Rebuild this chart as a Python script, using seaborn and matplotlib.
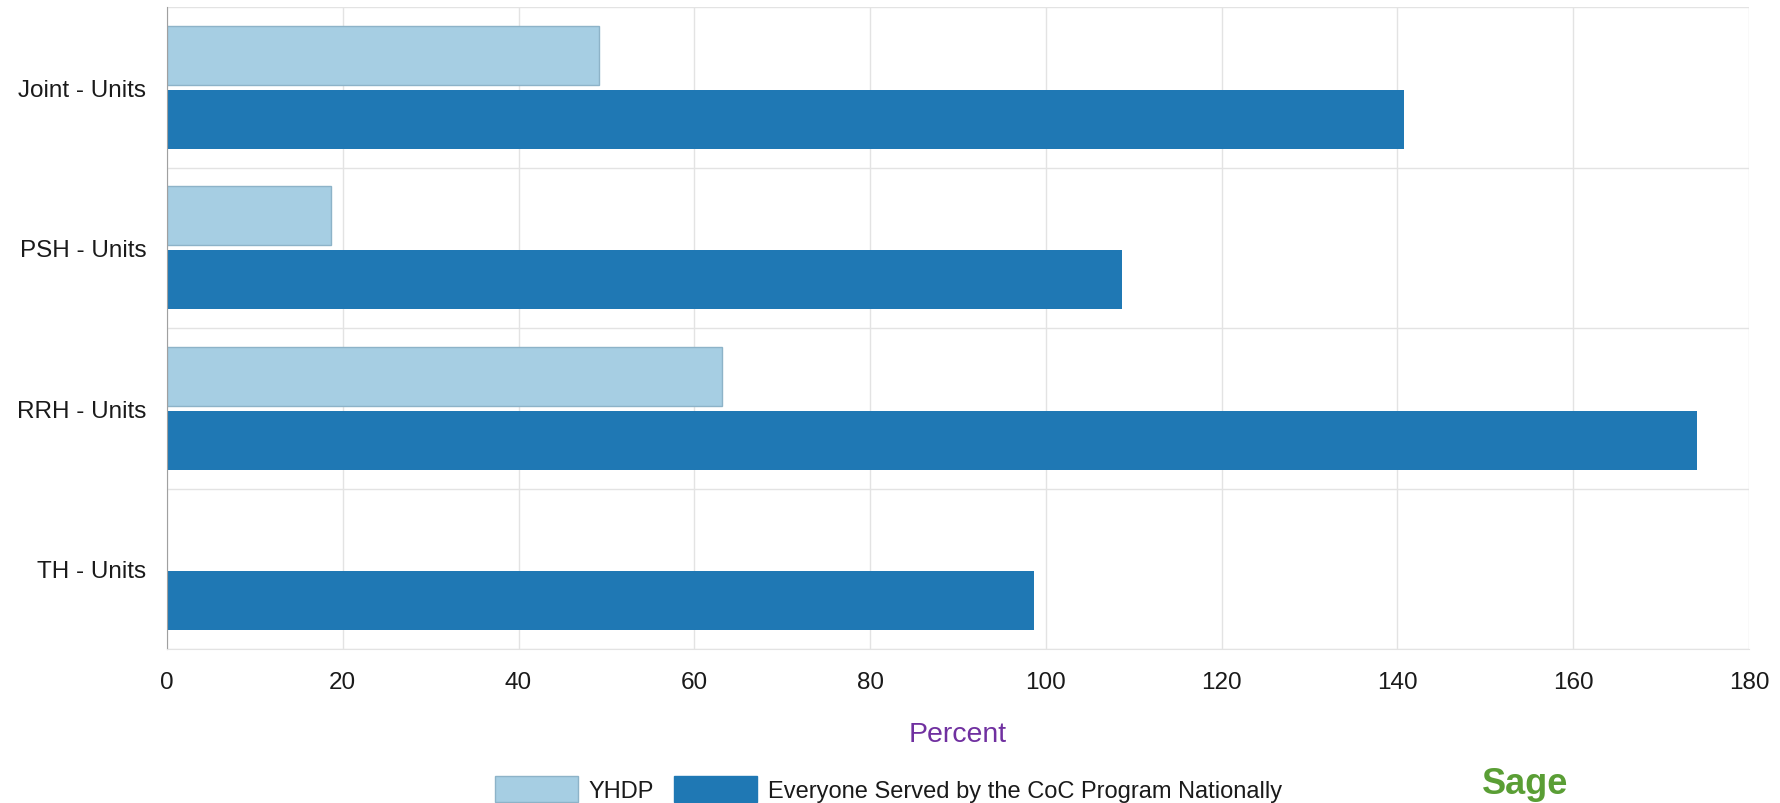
# Percent of units: YHDP vs everyone served by the CoC program nationally
import numpy as np
import pandas as pd
import matplotlib
matplotlib.use("Agg")
import matplotlib.pyplot as plt
from matplotlib.patches import Patch
import seaborn as sns

categories = ["Joint - Units", "PSH - Units", "RRH - Units", "TH - Units"]
series = ["YHDP", "Everyone Served by the CoC Program Nationally"]
yhdp = [49.2, 18.7, 63.2, np.nan]
everyone = [140.7, 108.7, 174.1, 98.7]
xticks = [0, 20, 40, 60, 80, 100, 120, 140, 160, 180]

colors = ["#a6cee3", "#1f78b4"]
grid_c = "#e3e3e3"

df = pd.DataFrame({
    "category": categories * 2,
    "series": [series[0]] * len(categories) + [series[1]] * len(categories),
    "value": yhdp + everyone,
})

sns.set_style("white")
plt.rcParams["font.family"] = ["Liberation Sans", "DejaVu Sans"]

fig = plt.figure(figsize=(17.81, 8.04), dpi=100)
ax = fig.add_axes([167 / 1781, 1 - 650 / 804, (1749 - 167) / 1781, (650 - 8) / 804])

sns.barplot(data=df, y="category", x="value", hue="series", order=categories,
            hue_order=series, palette=colors, saturation=1, orient="h",
            width=0.8, gap=0.08, linewidth=0, ax=ax, legend=False)

for p in ax.containers[0]:
    p.set_edgecolor("#8db3c8")
    p.set_linewidth(1)

ax.set_xlim(0, 180)
ax.set_ylim(3.5, -0.5)
ax.set_xticks(xticks)
ax.set_xticklabels([str(t) for t in xticks])
ax.set_yticks(range(len(categories)))
ax.set_yticklabels(categories)
ax.set_yticks(np.arange(-0.5, len(categories), 1.0), minor=True)

ax.grid(True, axis="x", which="major", color=grid_c, linewidth=1)
ax.grid(True, axis="y", which="minor", color=grid_c, linewidth=1)
ax.set_axisbelow(True)

ax.tick_params(axis="x", which="major", length=13.5, width=1, color=grid_c,
               labelsize=17.5, labelcolor="#1a1a1a", pad=2)
ax.tick_params(axis="y", which="major", length=0, pad=15,
               labelsize=17.5, labelcolor="#1a1a1a")
ax.tick_params(axis="y", which="minor", length=14.5, width=1, color=grid_c)

for side in ["top", "right"]:
    ax.spines[side].set_visible(False)
ax.spines["bottom"].set_color(grid_c)
ax.spines["left"].set_color("#a0a0a0")

ax.set_xlabel("")
ax.set_ylabel("")
fig.text(958 / 1781, 1 - 735 / 804, "Percent", color="#7030a0", fontsize=20.5,
         ha="center", va="center")

handles = [Patch(facecolor=colors[0], edgecolor="#8db3c8"),
           Patch(facecolor=colors[1], edgecolor=colors[1])]
fig.legend(handles, series, loc="upper center", bbox_to_anchor=(0.499, 1 - 777 / 804),
           ncol=2, frameon=False, fontsize=17, handlelength=3.5, handleheight=1.3,
           handletextpad=0.47, columnspacing=0.85, borderpad=0, borderaxespad=0,
           labelcolor="#1a1a1a")

fig.text(1482 / 1781, 2 / 804, "Sage", color="#5a9e35", fontsize=26,
         fontweight="bold", ha="left", va="bottom")

fig.savefig("out.png", dpi=100)
